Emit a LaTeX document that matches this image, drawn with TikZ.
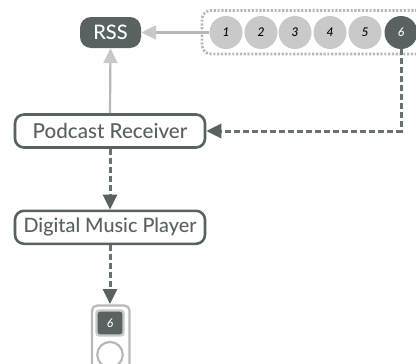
\documentclass[tikz,border=0pt]{standalone}
\usepackage{fontspec}
\setmainfont{Lato Medium}[ItalicFont=Lato Medium Italic]
\usetikzlibrary{arrows.meta}
\definecolor{darkg}{HTML}{596161}
\definecolor{lightg}{HTML}{C9C9C9}
\definecolor{midg}{HTML}{B8B8B8}
\tikzset{
  x=1pt,y=-1pt,
  lbl/.style={text=darkg},
  labelbox/.style={draw=darkg,line width=2.6pt,rounded corners=9pt,fill=white,minimum width=190pt,minimum height=33pt,inner sep=0pt,lbl},
  darkbox/.style={fill=darkg,rounded corners=11pt,minimum width=61pt,minimum height=31pt,inner sep=0pt,text=white,font=\fontsize{20}{22}\selectfont},
  ep/.style={circle,fill=lightg,minimum size=33pt,inner sep=0pt,font=\fontsize{12}{13}\selectfont\itshape,text=black},
  epdark/.style={ep,fill=darkg,text=white},
  lightarrow/.style={draw=midg,line width=2.2pt,-{Triangle[length=15pt,width=14pt,fill=lightg,color=lightg]}},
  darkarrow/.style={draw=darkg!90!white,line width=3pt,dash pattern=on 6pt off 3pt,-{Triangle[length=15pt,width=14pt,fill=darkg,color=darkg]}},
}
\begin{document}
\begin{tikzpicture}
\useasboundingbox (0,0) rectangle (416,364);
\clip (0,0) rectangle (416,364);
\draw[draw=midg,line width=2.8pt,dash pattern=on 2.2pt off 1.6pt,rounded corners=9pt] (202,10.5) rectangle (440,54);
\node[darkbox] (rss) at (110.5,32.5) {RSS};
\node[ep] (e1) at (226,32.5) {1};
\node[ep] (e2) at (261,32.5) {2};
\node[ep] (e3) at (295,32.5) {3};
\node[ep] (e4) at (330,32.5) {4};
\node[ep] (e5) at (365,32.5) {5};
\node[epdark] (e6) at (401,32.5) {6};
\node[labelbox,font=\fontsize{20.6}{22}\selectfont] (pr) at (110,131) {Podcast Receiver};
\node[labelbox,font=\fontsize{19.8}{22}\selectfont] (dm) at (110,227.3) {Digital Music Player};
\draw[draw=midg,line width=2.2pt,rounded corners=5pt,fill=white] (92,305.5) rectangle (129.5,375);
\node[fill=darkg,draw=lightg,line width=2.4pt,rounded corners=3pt,minimum width=27pt,minimum height=25pt,inner sep=0pt,text=white,font=\fontsize{12}{13}\selectfont\itshape] (sc) at (110,323) {6};
\node[circle,draw=midg,line width=2.2pt,fill=white,minimum size=25.5pt,inner sep=0pt] (wh) at (110,354.7) {};
\coordinate (podtop) at (110,304);
\draw[lightarrow] (e1.west) -- (rss.east);
\draw[lightarrow] (pr.north) -- (rss.south);
\draw[darkarrow] (e6.south) |- (pr.east);
\draw[darkarrow] (pr.south) -- (dm.north);
\draw[darkarrow] (dm.south) -- (podtop);
\end{tikzpicture}
\end{document}
